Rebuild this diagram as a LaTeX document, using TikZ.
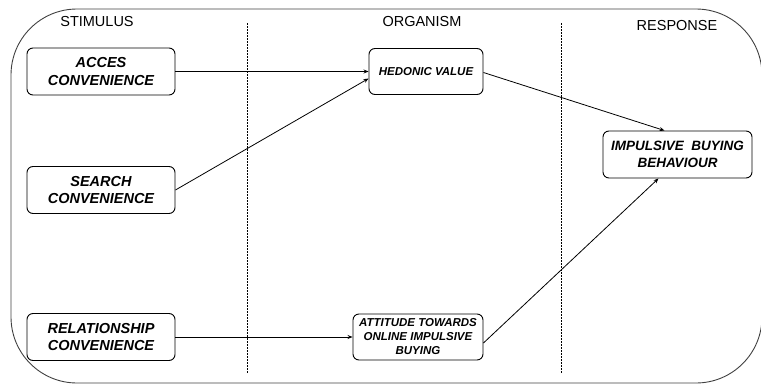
\documentclass[tikz,border=0pt]{standalone}
\usepackage{fontspec}
\setmainfont{Liberation Sans}
\usepackage{tikz}
\usetikzlibrary{
  arrows.meta,
  positioning
}

\begin{document}
\begin{tikzpicture}[
    x=1pt, y=-1pt,
    box/.style={draw, rounded corners=6pt, line width=0.9pt,
                align=center, inner sep=2pt,
                font=\fontsize{14.5}{17.5}\selectfont\bfseries\itshape},
    smallbox/.style={box, font=\fontsize{11.5}{14}\selectfont\bfseries\itshape},
    header/.style={font=\fontsize{14.5}{17}\selectfont},
    divider/.style={dashed, dash pattern=on 2pt off 1pt, line width=0.8pt},
    link/.style={-{Stealth[length=5pt,width=4pt]}, line width=0.8pt},
    >=Stealth
  ]
  \useasboundingbox (0,0) rectangle (761,386);

  %% Frame
  \draw[line width=0.9pt, black!75, rounded corners=66pt]
    (11,9) rectangle (762,383);

  %% Column dividers
  \draw[divider] (247,23) -- (247,373);
  \draw[divider] (561,23) -- (561,373);

  %% Headers
  \node[header] (hstim) at (97,22) {STIMULUS};
  \node[header] (horg)  at (422,22) {ORGANISM};
  \node[header] (hresp) at (677,26) {RESPONSE};

  %% Stimulus
  \node[box, minimum width=148pt, minimum height=47pt] (acces)
    at (101,71.5) {ACCES\\CONVENIENCE};
  \node[box, minimum width=148pt, minimum height=47pt] (search)
    at (101,190) {SEARCH\\CONVENIENCE};
  \node[box, minimum width=148pt, minimum height=47pt] (relation)
    at (101,337) {RELATIONSHIP\\CONVENIENCE};

  %% Organism
  \node[smallbox, minimum width=114pt, minimum height=46pt] (hedonic)
    at (426,71.5) {HEDONIC VALUE};
  \node[smallbox, minimum width=130pt, minimum height=46pt] (attitude)
    at (418,337) {ATTITUDE TOWARDS\\ONLINE IMPULSIVE\\BUYING};

  %% Response
  \node[box, font=\fontsize{13.5}{16.5}\selectfont\bfseries\itshape,
        minimum width=149pt, minimum height=47pt] (impulse)
    at (677.5,154.5) {IMPULSIVE\ \ BUYING\\BEHAVIOUR};

  %% Links
  \draw[link] (acces) -- (hedonic);
  \draw[link] (search.east) -- ([yshift=-7pt]hedonic.west);
  \draw[link] (relation) -- (attitude);
  \draw[link] ([yshift=-1pt]hedonic.east) -- ([xshift=-13pt]impulse.north);
  \draw[link] ([yshift=-6pt]attitude.east) -- ([xshift=-19pt]impulse.south);

\end{tikzpicture}
\end{document}
